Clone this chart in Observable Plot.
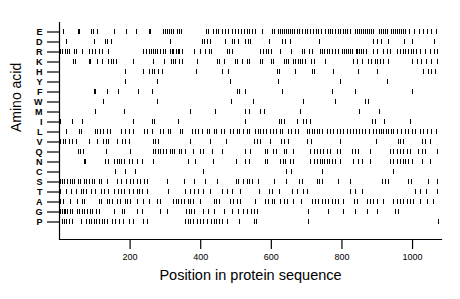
<!DOCTYPE html>
<html>
<head>
<meta charset="utf-8">
<script src="https://cdn.jsdelivr.net/npm/d3@7"></script>
<script src="https://cdn.jsdelivr.net/npm/@observablehq/plot@0.6"></script>
<style>
  html, body { margin: 0; padding: 0; background: #fff; }
</style>
</head>
<body>
<div id="chart"></div>
<script>
const aminoAcids = ["E","D","R","K","H","Y","F","W","M","I","L","V","Q","N","C","S","T","A","G","P"];
const xTicks = [200, 400, 600, 800, 1000];
const xTitle = "Position in protein sequence";
const yTitle = "Amino acid";

const posE = [10,53,57,91,96,107,157,190,219,254,258,294,300,306,311,317,324,334,340,345,417,423,436,445,451,461,471,480,490,499,507,516,524,532,539,546,554,574,603,610,620,626,633,638,644,650,655,661,667,674,680,688,697,703,712,720,727,735,742,754,761,769,774,782,790,797,804,810,817,824,838,845,851,856,862,868,873,879,885,890,907,913,919,924,928,939,945,951,956,962,968,973,981,992,1005,1019,1032,1043,1055,1068];
const posD = [21,98,129,137,148,315,405,411,419,428,471,490,496,508,527,534,541,596,631,641,655,737,890,902,913,933,978,1000,1062];
const posR = [3,8,16,23,29,42,49,65,84,93,103,112,123,139,238,246,256,261,267,273,278,285,294,300,313,319,324,330,336,341,347,381,398,413,424,431,475,481,490,570,579,586,593,601,626,657,688,695,708,716,739,746,752,758,765,772,782,791,801,807,813,819,824,830,840,845,851,856,862,870,890,902,919,930,938,958,966,973,981,989,996,1004,1011,1022,1037,1051,1062,1071];
const posK = [39,44,84,89,107,122,140,147,154,161,211,267,298,317,323,328,341,348,390,447,454,468,499,505,518,532,537,570,576,600,606,636,642,650,662,669,676,683,689,697,714,722,754,834,845,858,876,883,895,902,909,917,933,999,1013,1024,1039,1055,1070];
const posH = [186,237,254,263,270,279,293,389,461,480,617,623,669,716,723,777,848,900,1032,1046,1055,1065];
const posY = [188,277,483,620,796,930];
const posF = [98,103,136,166,225,263,504,510,527,631,773,837,1000];
const posW = [126,277,487,549,691,782,866,874];
const posM = [101,183,370,442,528,537,570,580,682,849,906];
const posI = [4,37,65,211,263,270,338,527,623,630,637,673,690,700,711,887,894,921,995];
const posL = [21,56,62,101,107,117,126,136,145,176,188,197,211,240,249,263,287,294,310,315,343,349,376,386,395,405,419,426,438,445,458,466,485,494,504,511,521,532,539,556,563,570,579,586,598,605,614,626,633,648,656,669,676,702,708,716,723,730,737,744,758,768,777,787,796,805,815,823,834,841,851,858,866,879,890,898,905,911,919,925,933,939,947,956,968,980,989,999,1008,1022,1032,1043,1055,1068];
const posV = [4,10,18,27,37,49,84,107,126,134,140,164,178,188,197,265,272,279,370,428,473,551,560,570,598,629,638,648,702,715,796,898,960,966,975,1027,1037,1050];
const posQ = [53,60,68,134,202,266,273,279,287,294,302,313,320,327,340,346,357,379,400,408,433,462,527,541,584,590,607,615,636,643,664,711,721,730,739,749,758,768,787,796,829,838,848,881,938,947,956,966,975,985,994,1018,1027,1037,1070];
const posN = [70,74,131,140,155,164,169,176,185,197,207,221,235,265,364,385,437,502,527,539,584,590,626,634,641,655,662,711,721,730,738,744,751,758,766,773,782,796,834,848,858,881,938,947,956,966,973,980,989,999,1027,1051];
const posC = [159,188,216,409,643,656,745,947];
const posS = [4,9,15,23,30,37,43,53,60,70,77,86,93,100,112,119,136,164,175,190,202,211,221,230,241,249,307,353,381,414,447,502,508,522,532,539,546,563,610,642,680,688,730,737,744,789,824,914,923,933,989,996,1046,1072];
const posT = [4,21,34,49,61,68,77,90,103,119,128,138,155,166,175,185,197,211,221,228,235,249,310,357,371,383,395,408,428,461,475,490,513,567,596,604,622,659,674,690,702,824,839,857,1008,1022,1039,1072];
const posA = [4,10,32,51,65,72,112,119,136,143,150,164,172,188,194,202,221,238,256,277,287,324,332,338,345,353,364,372,379,400,438,445,452,485,494,504,513,555,584,593,603,609,626,636,645,664,685,716,725,735,744,754,763,773,782,791,805,836,843,872,881,890,900,919,947,956,966,975,985,994,1003,1022,1041,1060];
const posG = [4,8,13,18,23,32,37,51,58,65,72,79,87,93,106,112,155,178,185,221,235,287,306,360,367,374,381,409,423,438,468,490,508,522,532,543,551,560,706,763,805,838,872,900,952,961];
const posP = [8,15,21,27,37,61,77,84,90,98,105,113,121,128,136,150,159,169,181,197,211,239,249,357,364,372,379,391,400,409,419,430,438,445,452,461,475,511,551,557,706,1074];

const positions = {E: posE, D: posD, R: posR, K: posK, H: posH, Y: posY, F: posF, W: posW, M: posM, I: posI,
  L: posL, V: posV, Q: posQ, N: posN, C: posC, S: posS, T: posT, A: posA, G: posG, P: posP};

const data = aminoAcids.flatMap(aa => positions[aa].map(pos => ({aa, pos})));

const chart = Plot.plot({
  width: 460,
  height: 299,
  marginLeft: 59,
  marginRight: 19,
  marginTop: 22,
  marginBottom: 60,
  style: {fontFamily: "'Liberation Sans', Arial, Helvetica, sans-serif", background: "white", color: "black"},
  x: {domain: [0, 1082]},
  y: {type: "band", domain: aminoAcids, range: [21.6, 230.7], paddingInner: 0.5, paddingOuter: 0},
  marks: [
    Plot.tickX(data, {x: "pos", y: "aa", stroke: "black", strokeWidth: 1, shapeRendering: "crispEdges"}),
    Plot.ruleX([0], {stroke: "black", strokeWidth: 1.2}),
    Plot.frame({anchor: "bottom", stroke: "black", strokeWidth: 1.2}),
    Plot.axisX(xTicks, {tickSize: 10, tickPadding: 4, fontSize: 9, label: null, strokeWidth: 1.2, tickFormat: d => String(d)}),
    Plot.axisY({tickSize: 12, tickPadding: 5, fontSize: 9, fontWeight: "bold", label: null, strokeWidth: 1.2}),
    Plot.text([xTitle], {frameAnchor: "bottom", text: d => d, dy: 40, fontSize: 14.5}),
    Plot.text([yTitle], {frameAnchor: "left", text: d => d, rotate: -90, dx: -43, dy: 1, fontSize: 14})
  ]
});
document.getElementById("chart").appendChild(chart);
</script>
</body>
</html>
